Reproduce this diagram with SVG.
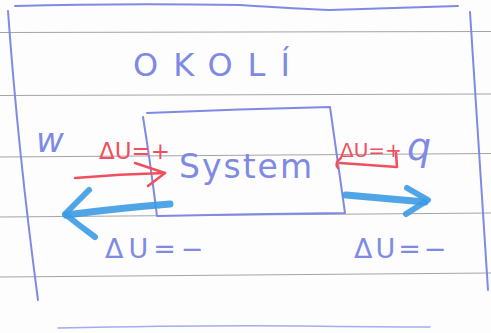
<svg xmlns="http://www.w3.org/2000/svg" width="491" height="333" viewBox="0 0 491 333">
  <style>
    .rule { stroke: #a4a4a8; stroke-width: 1.2; fill: none; }
    .pen { stroke: #7f8ae4; stroke-width: 2; fill: none; stroke-linecap: round; stroke-linejoin: round; }
    .penFaint { stroke: #8e97e8; stroke-width: 1.6; fill: none; stroke-linecap: round; opacity: 0.8; }
    .red { stroke: #f0505e; stroke-width: 2.6; fill: none; stroke-linecap: round; stroke-linejoin: round; }
    .cyan { stroke: #3d9be3; stroke-width: 7; fill: none; stroke-linecap: round; stroke-linejoin: round; opacity: 0.9; }
    .cyanHead { stroke: #3d9be3; stroke-width: 6; fill: none; stroke-linecap: round; stroke-linejoin: round; opacity: 0.9; }
    .hand { font-family: "DejaVu Sans", "Liberation Sans", sans-serif; fill: #7f8ae4; }
    .handRed { font-family: "DejaVu Sans", "Liberation Sans", sans-serif; fill: #f0505e; }
  </style>

  <!-- paper background -->
  <rect x="0" y="0" width="491" height="333" fill="#fdfdfd"/>

  <!-- ruled lines of the notebook page -->
  <g id="ruled-lines">
    <path class="rule" d="M0 32.5 L491 31.5"/>
    <path class="rule" d="M0 95.5 L491 94"/>
    <path class="rule" d="M0 157 L491 153.5"/>
    <path class="rule" d="M0 217 L491 213"/>
    <path class="rule" d="M0 277 L491 273"/>
  </g>

  <!-- surroundings frame -->
  <g id="surroundings">
    <path class="pen" d="M15 6 Q120 3 240 5 Q300 9 330 10 Q400 8 458 6"/>
    <path class="pen" d="M8 11 Q18 150 38 300"/>
    <path class="pen" d="M470 12 Q478 140 488 290"/>
    <path class="penFaint" d="M58 328 Q200 325 300 326 Q380 327 430 327"/>
    <text id="okoli" class="hand" x="133" y="76" font-size="32" letter-spacing="15">OKOLÍ</text>
  </g>

  <!-- the system box -->
  <g id="system">
    <path class="pen" d="M147 113 Q240 109 330 107 L345 213 Q250 214 157 216 Q150 160 143 117"/>
    <text class="hand" x="179" y="178" font-size="33" letter-spacing="2">System</text>
  </g>

  <!-- labels for work and heat -->
  <g id="label-w">
    <text class="hand" x="36" y="152" font-size="34" font-style="italic">w</text>
  </g>
  <g id="label-q">
    <text class="hand" x="407" y="160" font-size="38" font-style="italic">q</text>
  </g>

  <!-- energy flow arrows -->
  <g id="connectors">
    <!-- work into the system -->
    <path class="red" d="M75 178 Q120 174 165 173"/>
    <path class="red" d="M135 163 L165 173 L148 186"/>
    <text class="handRed" x="99" y="159" font-size="23">ΔU=+</text>

    <!-- heat into the system -->
    <path class="red" d="M396 153 L397 167 Q370 165 340 163"/>
    <path class="red" d="M341 158 Q334 163 338 168"/>
    <text class="handRed" x="340" y="157" font-size="20">ΔU=+</text>

    <!-- energy leaving the system, left -->
    <path class="cyan" d="M170 204 Q120 208 66 215"/>
    <path class="cyanHead" d="M89 190 Q74 205 65 214 Q80 226 95 237"/>

    <!-- energy leaving the system, right -->
    <path class="cyan" d="M346 195 Q390 199 425 202"/>
    <path class="cyanHead" d="M407 188 L428 200 L406 214"/>
  </g>

  <!-- signs of the internal energy change -->
  <g id="labels-minus">
    <text class="hand" x="105" y="258" font-size="27" letter-spacing="5">ΔU=−</text>
    <text class="hand" x="354" y="258" font-size="27" letter-spacing="3">ΔU=−</text>
  </g>
</svg>
